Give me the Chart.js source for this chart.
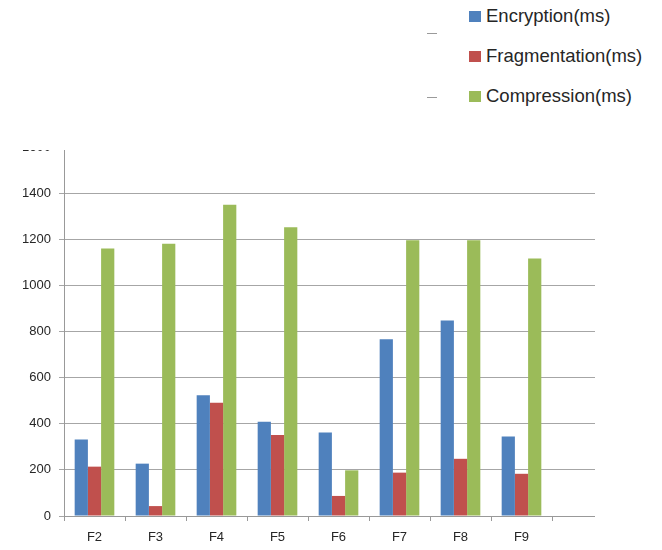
<!DOCTYPE html>
<html>
<head>
<meta charset="utf-8">
<script src="https://cdn.jsdelivr.net/npm/chart.js@4/dist/chart.umd.min.js"></script>
<style>
  html, body { margin:0; padding:0; background:#fff; }
  body { width:662px; height:550px; position:relative; overflow:hidden; font-family:"Liberation Sans", Arial, sans-serif; }
  #legend { position:absolute; left:469px; top:4px; }
  #legend .item { height:40px; display:flex; align-items:flex-start; font-size:18.5px; color:#262626; line-height:24px; }
  #legend .swatch { display:inline-block; width:12px; height:11px; margin:7px 5px 0 0; }
  .dash { position:absolute; left:427px; width:10px; height:1px; background:#9a9a9a; }
  #wrap { position:absolute; left:0; top:150px; width:595px; height:400px; overflow:hidden; }
  #chart { position:absolute; left:0; top:-150px; }
</style>
</head>
<body>
<div class="dash" style="top:33px"></div>
<div class="dash" style="top:97px"></div>
<div id="legend"></div>
<div id="wrap"><canvas id="chart" width="662" height="550"></canvas></div>
<script>
// categories (last slot is an empty one, as in the original plot)
const categories = ['F2','F3','F4','F5','F6','F7','F8','F9',''];
const encryption    = [332, 227, 524, 409, 362, 766, 848, 345];
const fragmentation = [214,  43, 491, 351,  87, 188, 248, 183];
const compression   = [1160,1180,1350,1252, 198,1196,1196,1117];
const yTicks = [0, 200, 400, 600, 800, 1000, 1200, 1400, 1600];

const seriesNames = ['Encryption(ms)', 'Fragmentation(ms)', 'Compression(ms)'];
const seriesColors = ['#4F81BD', '#C0504D', '#9BBB59'];

const datasets = [encryption, fragmentation, compression].map((d, i) => ({
  label: seriesNames[i],
  data: d,
  backgroundColor: seriesColors[i],
  borderWidth: 0,
  categoryPercentage: 0.65,
  barPercentage: 1.0
}));

new Chart(document.getElementById('chart').getContext('2d'), {
  type: 'bar',
  data: { labels: categories, datasets },
  options: {
    responsive: false,
    animation: false,
    layout: { padding: { left: 0, right: 49, top: 147, bottom: 0 } },
    scales: {
      x: {
        offset: true,
        grid: { display: true, drawOnChartArea: false, drawTicks: true, tickLength: 5, color: '#999' },
        border: { color: '#999', width: 1 },
        ticks: { color: '#262626', font: { family: 'Liberation Sans', size: 13 }, padding: 9 },
        afterFit: (s) => { s.height = 34; }
      },
      y: {
        min: yTicks[0],
        max: yTicks[yTicks.length - 1],
        afterBuildTicks: (s) => { s.ticks = yTicks.map(v => ({ value: v })); },
        grid: { color: '#a6a6a6', lineWidth: 1, tickLength: 5 },
        border: { color: '#999', width: 1 },
        ticks: {
          color: '#262626',
          font: { family: 'Liberation Sans', size: 13 },
          padding: 8,
          callback: (v) => String(v) // plain numbers, no thousands separator
        },
        afterFit: (s) => { s.width = 64; }
      }
    },
    plugins: {
      legend: { display: false },
      tooltip: { enabled: false }
    }
  }
});

// legend, stacked on the top right
const legend = document.getElementById('legend');
seriesNames.forEach((name, i) => {
  const el = document.createElement('div');
  el.className = 'item';
  el.innerHTML = `<span class="swatch" style="background:${seriesColors[i]}"></span>${name}`;
  legend.appendChild(el);
});
</script>
</body>
</html>
